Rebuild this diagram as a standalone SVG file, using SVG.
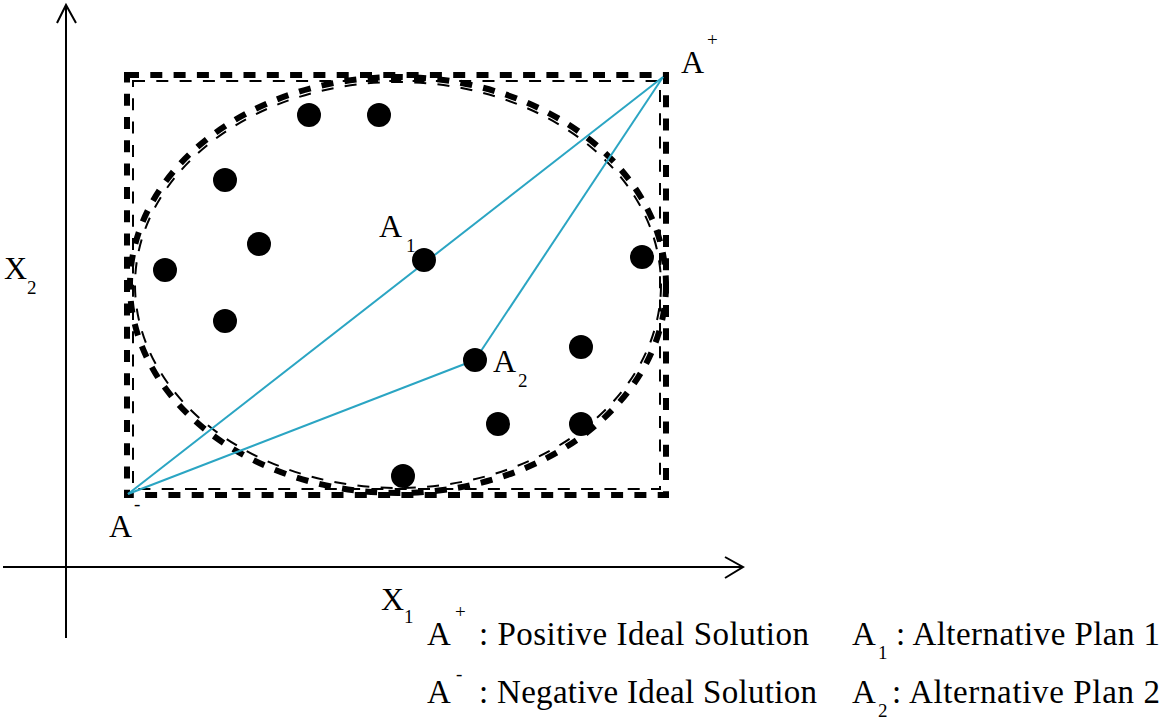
<svg xmlns="http://www.w3.org/2000/svg" width="1164" height="719" viewBox="0 0 1164 719">
<style>
.big{font-size:32px}
.sub{font-size:19px}
.lg{font-size:33px}
.thick{fill:none;stroke:#000;stroke-width:6;stroke-dasharray:12 11.3}
.thin{fill:none;stroke:#000;stroke-width:2;stroke-dasharray:12 11.3}
.axis{fill:none;stroke:#000;stroke-width:2}
.dot{fill:#000}
.link{fill:none;stroke:#2BA5C3;stroke-width:2}
</style>
<rect width="1164" height="719" fill="#fff"/>
<g id="axes">
<line class="axis" x1="66" y1="638" x2="66" y2="5"/>
<polyline class="axis" points="57,23 66,5 76,23"/>
<line class="axis" x1="3" y1="567" x2="742" y2="567"/>
<polyline class="axis" points="725,557 743,567 725,578"/>
</g>
<g id="bounds">
<rect class="thick" x="127" y="75" width="539" height="420"/>
<rect class="thin" x="133" y="81" width="527" height="408"/>
<ellipse class="thick" cx="398" cy="285" rx="268" ry="208"/>
<ellipse class="thin" cx="398" cy="285" rx="263" ry="203"/>
</g>
<g id="connectors">
<line class="link" x1="128" y1="494" x2="663" y2="77"/>
<line class="link" x1="128" y1="494" x2="475" y2="360"/>
<line class="link" x1="475" y1="360" x2="663" y2="77"/>
</g>
<g font-family="Liberation Serif, Times New Roman, serif" fill="#000">
<g id="p1"><circle class="dot" cx="309" cy="115" r="12"/></g>
<g id="p2"><circle class="dot" cx="379" cy="115" r="12"/></g>
<g id="p3"><circle class="dot" cx="225" cy="180" r="12"/></g>
<g id="p4"><circle class="dot" cx="259" cy="244" r="12"/></g>
<g id="p5"><circle class="dot" cx="165" cy="270" r="12"/></g>
<g id="p6"><circle class="dot" cx="225" cy="321" r="12"/></g>
<g id="a1"><circle class="dot" cx="424" cy="260" r="12"/>
<text class="big" x="379" y="237">A</text><text class="sub" x="406" y="252">1</text></g>
<g id="p7"><circle class="dot" cx="642" cy="257" r="12"/></g>
<g id="a2"><circle class="dot" cx="475" cy="360" r="12"/>
<text class="big" x="493" y="372">A</text><text class="sub" x="518" y="387">2</text></g>
<g id="p8"><circle class="dot" cx="581" cy="347" r="12"/></g>
<g id="p9"><circle class="dot" cx="498" cy="424" r="12"/></g>
<g id="p10"><circle class="dot" cx="581" cy="424" r="12"/></g>
<g id="p11"><circle class="dot" cx="403" cy="476" r="12"/></g>
<g id="aplus"><text class="big" x="681" y="73">A</text><text class="sub" x="707" y="46">+</text></g>
<g id="aminus"><text class="big" x="109" y="537">A</text><text class="sub" x="134" y="510">-</text></g>
<g id="x2label"><text class="big" x="4" y="279">X</text><text class="sub" x="27" y="294">2</text></g>
<g id="x1label"><text class="big" x="381" y="610">X</text><text class="sub" x="404" y="623">1</text></g>
<g id="legend">
<text class="lg" x="427" y="645">A</text><text class="sub" x="455" y="618">+</text>
<text class="lg" x="479" y="645" textLength="330" lengthAdjust="spacing">: Positive Ideal Solution</text>
<text class="lg" x="427" y="703">A</text><text class="sub" x="456" y="680">-</text>
<text class="lg" x="479" y="703" textLength="338" lengthAdjust="spacing">: Negative Ideal Solution</text>
<text class="lg" x="852" y="645">A</text><text class="sub" x="878" y="659">1</text>
<text class="lg" x="896" y="645" textLength="264" lengthAdjust="spacing">: Alternative Plan 1</text>
<text class="lg" x="852" y="703">A</text><text class="sub" x="878" y="717">2</text>
<text class="lg" x="892" y="703" textLength="268" lengthAdjust="spacing">: Alternative Plan 2</text>
</g>
</g>
</svg>
